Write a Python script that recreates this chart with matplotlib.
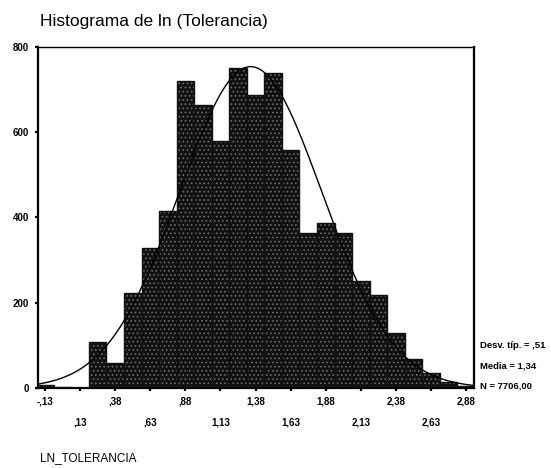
import numpy as np
import matplotlib
matplotlib.use("Agg")
import matplotlib.pyplot as plt

plt.rcParams['font.family'] = ['Liberation Sans', 'DejaVu Sans']
plt.rcParams['hatch.linewidth'] = 0.7

# bin centres (width 0.125) and counts
bin_centers = [-0.125, 0.0, 0.125, 0.25, 0.375, 0.5, 0.625, 0.75, 0.875, 1.0,
               1.125, 1.25, 1.375, 1.5, 1.625, 1.75, 1.875, 2.0, 2.125, 2.25,
               2.375, 2.5, 2.625, 2.75, 2.875]
counts = [8, 2, 1, 108, 58, 222, 328, 414, 719, 664,
          578, 750, 688, 739, 557, 363, 387, 363, 251, 218,
          130, 67, 35, 15, 5]
bin_width = 0.125

tick_pos = [-0.125, 0.125, 0.375, 0.625, 0.875, 1.125, 1.375, 1.625,
            1.875, 2.125, 2.375, 2.625, 2.875]
tick_labels = ["-,13", ",13", ",38", ",63", ",88", "1,13", "1,38", "1,63",
               "1,88", "2,13", "2,38", "2,63", "2,88"]
y_ticks = [0, 200, 400, 600, 800]

std_dev = 0.51
mean = 1.34
n_total = 7706

fig = plt.figure(figsize=(5.51, 4.68), dpi=100)
ax = fig.add_axes([0.069, 0.171, 0.791, 0.729])

# stippled dark bars: sparse grey dots over near-black fill, black outline
ax.bar(bin_centers, counts, width=bin_width, color="#111111",
       edgecolor="#6e6e6e", hatch="....", linewidth=0, zorder=2)
ax.bar(bin_centers, counts, width=bin_width, color="none",
       edgecolor="#111111", linewidth=1.0, zorder=3)

# fitted normal curve from the stated statistics
xs = np.linspace(-0.175, 2.93, 300)
ys = n_total * bin_width / (std_dev * np.sqrt(2 * np.pi)) * \
    np.exp(-0.5 * ((xs - mean) / std_dev) ** 2)
ax.plot(xs, ys, color="black", linewidth=1.0, zorder=4)

ax.set_xlim(-0.175, 2.93)
ax.set_ylim(0, 800)

labels = [lab if i % 2 == 0 else "\n" + lab for i, lab in enumerate(tick_labels)]
ax.set_xticks(tick_pos)
ax.set_xticklabels(labels, fontsize=7, fontweight="bold", linespacing=2.3)
ax.set_yticks(y_ticks)
ax.set_yticklabels([str(v) for v in y_ticks], fontsize=7, fontweight="bold")
ax.tick_params(axis="both", direction="out", length=2.5, width=1.6, pad=4)

for side in ["left", "bottom", "right"]:
    ax.spines[side].set_linewidth(1.6)
ax.spines["top"].set_linewidth(1.0)

fig.text(0.073, 0.955, "Histograma de ln (Tolerancia)", fontsize=12.5,
         ha="left", va="center")
fig.text(0.073, 0.022, "LN_TOLERANCIA", fontsize=8.5, ha="left", va="center")

stats = ["Desv. típ. = ,51", "Media = 1,34", "N = 7706,00"]
for i, s in enumerate(stats):
    fig.text(0.871, 0.262 - i * 0.043, s, fontsize=6.8, fontweight="bold",
             ha="left", va="center")

fig.savefig("out.png", dpi=100)
